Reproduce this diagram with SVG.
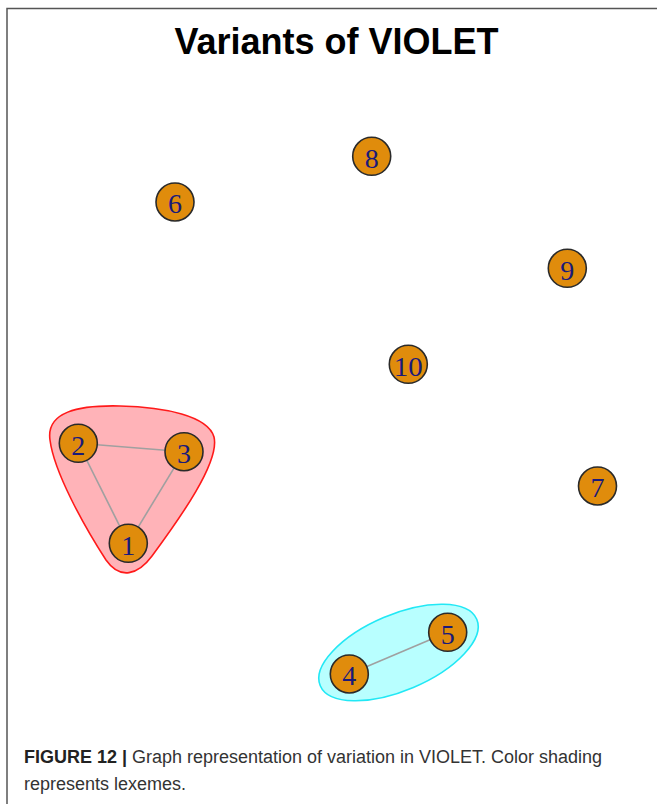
<svg xmlns="http://www.w3.org/2000/svg" width="657" height="804" viewBox="0 0 657 804">
<style>
.node circle{fill:#e08c0c;stroke:#2a2a2a;stroke-width:1.6}
.node text{font-family:"Liberation Serif","Times New Roman",serif;font-size:28px;fill:#1a1a7a;text-anchor:middle;dominant-baseline:central}
.edge{stroke:#a0a0a0;stroke-width:1.6;fill:none}
.title{font-family:"Liberation Sans",Arial,sans-serif;font-weight:bold;font-size:36px;fill:#000;text-anchor:middle}
.cap{font-family:"Liberation Sans",Arial,sans-serif;font-size:18px;fill:#333}
</style>
<rect x="0" y="0" width="657" height="804" fill="#fff"/>
<path d="M7,804 V8.5 H657" fill="none" stroke="#555" stroke-width="1.5"/>
<text class="title" x="336.5" y="53.5">Variants of VIOLET</text>
<g id="hulls">
<path id="hull-red" d="M50,440 C46,412 78,405 120,406 C165,407 208,416 214,437 C220,462 180,518 152,556 C138,575 120,580 106,560 C84,526 54,472 50,440 Z" fill="#ffb3b8" stroke="#ff1a1a" stroke-width="1.6"/>
<ellipse id="hull-cyan" cx="398.5" cy="652.5" rx="85" ry="38" transform="rotate(-23 398.5 652.5)" fill="#b8ffff" stroke="#22e8f5" stroke-width="1.6"/>
</g>
<g id="connectors">
<line class="edge" x1="78.3" y1="443.3" x2="184" y2="451.7"/>
<line class="edge" x1="78.3" y1="443.3" x2="128.3" y2="543.3"/>
<line class="edge" x1="184" y1="451.7" x2="128.3" y2="543.3"/>
<line class="edge" x1="349.3" y1="674" x2="447.7" y2="632.3"/>
</g>
<g id="n1" class="node"><circle cx="128.3" cy="543.3" r="19"/><text x="128.3" y="545">1</text></g>
<g id="n2" class="node"><circle cx="78.3" cy="443.3" r="19"/><text x="78.3" y="445">2</text></g>
<g id="n3" class="node"><circle cx="184" cy="451.7" r="19"/><text x="184" y="453.4">3</text></g>
<g id="n4" class="node"><circle cx="349.3" cy="674" r="19"/><text x="349.3" y="675.7">4</text></g>
<g id="n5" class="node"><circle cx="447.7" cy="632.3" r="19"/><text x="447.7" y="634">5</text></g>
<g id="n6" class="node"><circle cx="175" cy="202" r="19"/><text x="175" y="203.7">6</text></g>
<g id="n7" class="node"><circle cx="597.5" cy="486" r="19"/><text x="597.5" y="487.7">7</text></g>
<g id="n8" class="node"><circle cx="371.7" cy="156.3" r="19"/><text x="371.7" y="158">8</text></g>
<g id="n9" class="node"><circle cx="567.3" cy="268.3" r="19"/><text x="567.3" y="270">9</text></g>
<g id="n10" class="node"><circle cx="408.3" cy="364.3" r="19"/><text x="408.3" y="366" textLength="29" lengthAdjust="spacingAndGlyphs">10</text></g>
<text class="cap" x="24" y="763" textLength="578" lengthAdjust="spacingAndGlyphs"><tspan font-weight="bold" fill="#222">FIGURE 12 |</tspan> Graph representation of variation in VIOLET. Color shading</text>
<text class="cap" x="24" y="790">represents lexemes.</text>
</svg>
